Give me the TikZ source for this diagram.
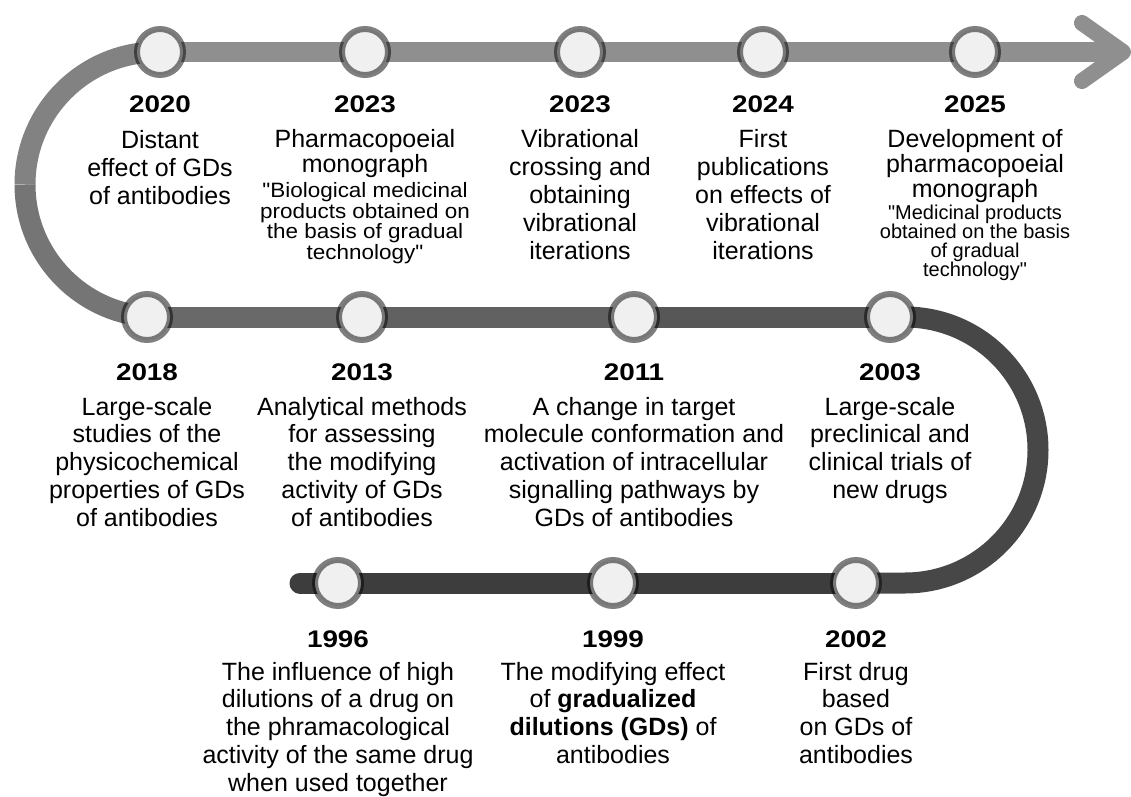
\documentclass[tikz,border=0pt]{standalone}
\usepackage{fontspec}
\setmainfont{Liberation Sans}
\newfontfamily\yearfont[FakeStretch=1.16]{Liberation Sans}
\newfontfamily\smallfont[FakeStretch=1.08]{Liberation Sans}
\newfontfamily\plainfont{Liberation Sans}
\usetikzlibrary{backgrounds}
\definecolor{ctop}{gray}{0.56}
\definecolor{carcA}{gray}{0.51}
\definecolor{carcB}{gray}{0.46}
\definecolor{cmA}{gray}{0.41}
\definecolor{cmB}{gray}{0.38}
\definecolor{cmC}{gray}{0.34}
\definecolor{carcR}{gray}{0.28}
\definecolor{cbot}{gray}{0.24}
\definecolor{dotfill}{gray}{0.94}
\newcommand\tl[2]{\vtop{\baselineskip=#1\lineskiplimit=-\maxdimen\lineskip=0pt\halign{\hfil##\hfil\cr#2\crcr}}}
\tikzset{
  dot/.style={circle, minimum size=23pt, inner sep=0pt, fill=dotfill, draw=black, draw opacity=0.5, line width=3pt},
  yr/.style={anchor=base, inner sep=0pt, font=\yearfont\bfseries\fontsize{12}{13}\selectfont},
  txt/.style={anchor=base, inner sep=0pt, font=\fontsize{12.5}{13.9}\selectfont},
  stxt/.style={anchor=base, inner sep=0pt, font=\smallfont\fontsize{10.4}{10.25}\selectfont},
  s2txt/.style={anchor=base, inner sep=0pt, font=\plainfont\fontsize{10}{9.5}\selectfont},
  track/.style={line width=10.5pt},
}
\begin{document}
\begin{tikzpicture}[x=0.5pt, y=-0.5pt]
\useasboundingbox (0,0) rectangle (1131,797);
% circles
\node[dot] (c2020) at (160,52) {};
\node[dot] (c2023a) at (365,52) {};
\node[dot] (c2023b) at (580,52) {};
\node[dot] (c2024) at (763,52) {};
\node[dot] (c2025) at (975,52) {};
\node[dot] (c2018) at (147,317) {};
\node[dot] (c2013) at (362,317) {};
\node[dot] (c2011) at (634,317) {};
\node[dot] (c2003) at (890,317) {};
\node[dot] (c1996) at (338,583) {};
\node[dot] (c1999) at (613,583) {};
\node[dot] (c2002) at (856,583) {};
\coordinate (start) at (300,583);
\coordinate (tip) at (1123,52);
\coordinate (chU) at (1082,23);
\coordinate (chD) at (1082,81);
% track
\begin{scope}[on background layer]
\fill[white] (0,0) rectangle (1131,797);
\draw[track, cbot, line cap=round] (start) -- (c1996.center) -- (c1999.center) -- (c2002.center);
\draw[track, carcR] (c2002.center) -- (905,583) arc[start angle=90, end angle=-90, radius=133] -- (c2003.center);
\draw[track, cmC] (c2003.center) -- (c2011.center);
\draw[track, cmB] (c2011.center) -- (c2013.center);
\draw[track, cmA] (c2013.center) -- (c2018.center);
\draw[track, carcB] (c2018.center) -- (157.5,317) arc[start angle=90, end angle=180, radius=132.5] coordinate (lmid);
\draw[track, carcA] (lmid) arc[start angle=180, end angle=270, radius=132.5] -- (c2020.center);
\draw[line width=10pt, ctop] (c2020.center) -- (c2023a.center) -- (c2023b.center) -- (c2024.center) -- (c2025.center) -- (tip);
\draw[line width=8pt, ctop, line cap=round, line join=round] (chU) -- (tip) -- (chD);
\end{scope}
% years
\node[yr] (y2020) at (160,113) {2020};
\node[yr] (y2023a) at (365,113) {2023};
\node[yr] (y2023b) at (580,113) {2023};
\node[yr] (y2024) at (763,113) {2024};
\node[yr] (y2025) at (975,113) {2025};
\node[yr] (y2018) at (147,380) {2018};
\node[yr] (y2013) at (362,380) {2013};
\node[yr] (y2011) at (634,380) {2011};
\node[yr] (y2003) at (890,380) {2003};
\node[yr] (y1996) at (338,647) {1996};
\node[yr] (y1999) at (613,647) {1999};
\node[yr] (y2002) at (856,647) {2002};
% texts
\node[txt] (t2020) at (160,149) {\tl{13.9pt}{Distant\cr effect of GDs\cr of antibodies}};
\node[txt] (t2023a) at (365,148) {\tl{12.5pt}{Pharmacopoeial\cr monograph}};
\node[stxt] (s2023a) at (365,198) {\tl{10.25pt}{"Biological medicinal\cr products obtained on\cr the basis of gradual\cr technology"}};
\node[txt] (t2023b) at (580,148) {\tl{13.9pt}{Vibrational\cr crossing and\cr obtaining\cr vibrational\cr iterations}};
\node[txt] (t2024) at (763,148) {\tl{13.9pt}{First\cr publications\cr on effects of\cr vibrational\cr iterations}};
\node[txt] (t2025) at (975,148) {\tl{12.5pt}{Development of\cr pharmacopoeial\cr monograph}};
\node[s2txt] (s2025) at (975,220) {\tl{9.5pt}{"Medicinal products\cr obtained on the basis\cr of gradual\cr technology"}};
\node[txt] (t2018) at (147,415) {\tl{13.9pt}{Large-scale\cr studies of the\cr physicochemical\cr properties of GDs\cr of antibodies}};
\node[txt] (t2013) at (362,415) {\tl{13.9pt}{Analytical methods\cr for assessing\cr the modifying\cr activity of GDs\cr of antibodies}};
\node[txt] (t2011) at (634,415) {\tl{13.9pt}{A change in target\cr molecule conformation and\cr activation of intracellular\cr signalling pathways by\cr GDs of antibodies}};
\node[txt] (t2003) at (890,415) {\tl{13.9pt}{Large-scale\cr preclinical and\cr clinical trials of\cr new drugs}};
\node[txt] (t1996) at (338,680) {\tl{13.9pt}{The influence of high\cr dilutions of a drug on\cr the phramacological\cr activity of the same drug\cr when used together}};
\node[txt] (t1999) at (613,680) {\tl{13.9pt}{The modifying effect\cr of \textbf{gradualized}\cr \textbf{dilutions (GDs)} of\cr antibodies}};
\node[txt] (t2002) at (856,680) {\tl{13.9pt}{First drug\cr based\cr on GDs of\cr antibodies}};
\end{tikzpicture}
\end{document}
